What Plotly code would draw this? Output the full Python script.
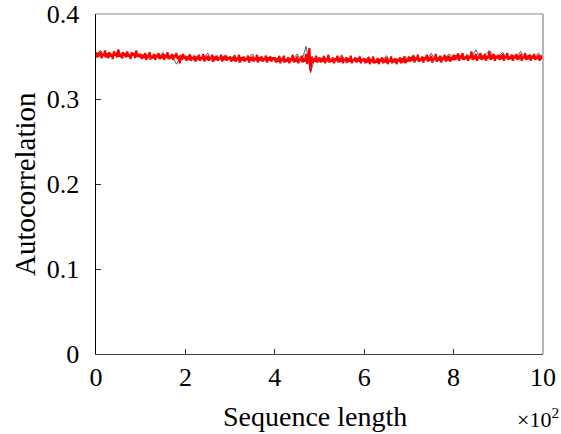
import numpy as np
import plotly.graph_objects as go

# Autocorrelation values (red series), sequence length 0..10 (x10^2)
red_values = [
    0.355,0.349,0.354,0.350,0.356,0.348,0.353,0.351,0.357,0.349,
    0.354,0.348,0.355,0.350,0.353,0.347,0.356,0.351,0.354,0.349,
    0.358,0.350,0.353,0.348,0.355,0.351,0.354,0.349,0.356,0.350,
    0.353,0.347,0.355,0.351,0.354,0.348,0.357,0.350,0.353,0.349,
    0.353,0.347,0.352,0.348,0.354,0.346,0.352,0.349,0.355,0.347,
    0.351,0.348,0.353,0.346,0.352,0.349,0.354,0.347,0.351,0.348,
    0.353,0.346,0.352,0.349,0.355,0.347,0.351,0.348,0.353,0.346,
    0.352,0.349,0.354,0.347,0.351,0.342,0.352,0.346,0.353,0.348,
    0.351,0.345,0.350,0.346,0.352,0.345,0.349,0.347,0.351,0.344,
    0.350,0.346,0.352,0.345,0.349,0.347,0.353,0.344,0.350,0.346,
    0.351,0.345,0.349,0.347,0.352,0.344,0.350,0.346,0.351,0.345,
    0.349,0.347,0.352,0.344,0.350,0.346,0.351,0.345,0.349,0.347,
    0.350,0.344,0.349,0.345,0.351,0.344,0.348,0.346,0.352,0.343,
    0.349,0.345,0.350,0.344,0.348,0.346,0.351,0.343,0.349,0.345,
    0.350,0.344,0.348,0.346,0.352,0.343,0.349,0.345,0.350,0.344,
    0.348,0.346,0.351,0.343,0.349,0.345,0.350,0.344,0.349,0.346,
    0.349,0.343,0.348,0.344,0.350,0.342,0.348,0.345,0.351,0.343,
    0.347,0.344,0.349,0.342,0.348,0.345,0.352,0.343,0.348,0.344,
    0.350,0.342,0.347,0.345,0.351,0.343,0.348,0.344,0.353,0.341,
    0.349,0.360,0.333,0.350,0.342,0.348,0.344,0.351,0.343,0.347,
    0.349,0.343,0.348,0.344,0.350,0.342,0.348,0.345,0.352,0.343,
    0.347,0.344,0.349,0.342,0.348,0.345,0.351,0.343,0.348,0.344,
    0.350,0.342,0.347,0.345,0.349,0.343,0.348,0.344,0.351,0.342,
    0.347,0.345,0.349,0.343,0.348,0.344,0.350,0.342,0.347,0.345,
    0.348,0.342,0.347,0.343,0.349,0.341,0.347,0.344,0.350,0.342,
    0.346,0.343,0.348,0.341,0.347,0.344,0.349,0.342,0.347,0.343,
    0.349,0.341,0.346,0.344,0.350,0.342,0.347,0.343,0.348,0.341,
    0.347,0.344,0.349,0.342,0.348,0.343,0.350,0.342,0.347,0.344,
    0.350,0.344,0.349,0.345,0.351,0.343,0.349,0.346,0.352,0.344,
    0.348,0.345,0.350,0.343,0.349,0.346,0.352,0.344,0.349,0.345,
    0.351,0.343,0.348,0.346,0.353,0.344,0.349,0.345,0.351,0.343,
    0.349,0.346,0.352,0.344,0.350,0.345,0.351,0.344,0.349,0.346,
    0.352,0.346,0.351,0.347,0.353,0.345,0.351,0.348,0.354,0.346,
    0.350,0.347,0.352,0.345,0.351,0.348,0.356,0.346,0.351,0.347,
    0.353,0.345,0.350,0.348,0.354,0.346,0.351,0.347,0.353,0.345,
    0.351,0.348,0.356,0.346,0.352,0.347,0.353,0.345,0.351,0.348,
    0.352,0.346,0.351,0.347,0.353,0.345,0.351,0.348,0.354,0.346,
    0.350,0.347,0.352,0.345,0.351,0.348,0.353,0.346,0.351,0.347,
    0.353,0.345,0.350,0.348,0.354,0.346,0.351,0.347,0.352,0.345,
    0.351,0.348,0.353,0.346,0.350,0.347,0.352,0.345,0.351,0.348,
    0.349,
]

# Black series (drawn beneath the red one)
black_values = [
    0.352,0.357,0.349,0.354,0.351,0.358,0.348,0.353,0.350,0.355,
    0.349,0.354,0.346,0.352,0.348,0.355,0.347,0.351,0.341,0.350,
    0.347,0.353,0.345,0.350,0.348,0.354,0.344,0.349,0.346,0.352,
    0.346,0.352,0.343,0.349,0.347,0.353,0.344,0.350,0.345,0.350,
    0.345,0.351,0.343,0.348,0.346,0.353,0.344,0.362,0.331,0.349,
    0.345,0.351,0.343,0.348,0.346,0.352,0.342,0.348,0.344,0.350,
    0.344,0.350,0.342,0.348,0.345,0.351,0.343,0.347,0.344,0.350,
    0.346,0.352,0.344,0.349,0.347,0.354,0.345,0.350,0.348,0.353,
    0.348,0.354,0.346,0.351,0.349,0.358,0.347,0.352,0.357,0.351,
    0.350,0.355,0.347,0.352,0.349,0.356,0.347,0.352,0.349,0.354,
    0.349,
]

x_red = np.linspace(0, 10, len(red_values))
x_black = np.linspace(0, 10, len(black_values))

x_ticks = [0, 2, 4, 6, 8, 10]
y_ticks = [0, 0.1, 0.2, 0.3, 0.4]
y_tick_text = ["0", "0.1", "0.2", "0.3", "0.4"]

font_family = "Liberation Serif, Times New Roman, serif"

fig = go.Figure()
fig.add_trace(go.Scatter(x=x_black, y=black_values, mode="lines",
                         line=dict(color="#333333", width=0.8), hoverinfo="skip"))
fig.add_trace(go.Scatter(x=x_red, y=red_values, mode="lines",
                         line=dict(color="#ff0000", width=2.2), hoverinfo="skip"))

fig.update_layout(
    width=561, height=434,
    margin=dict(l=96, r=18, t=14, b=80, autoexpand=False),
    paper_bgcolor="white", plot_bgcolor="white",
    showlegend=False,
    font=dict(family=font_family, size=26, color="black"),
    xaxis=dict(range=[0, 10], tickvals=x_ticks, ticks="inside", ticklen=5,
               tickcolor="#333333", showgrid=False, zeroline=False,
               showline=True, linecolor="#444444", linewidth=1,
               tickfont=dict(size=26), ticklabelstandoff=0,
               automargin=False, fixedrange=True),
    yaxis=dict(range=[0, 0.4], tickvals=y_ticks, ticktext=y_tick_text,
               ticks="inside", ticklen=5, tickcolor="#333333",
               showgrid=False, zeroline=False, showline=True,
               linecolor="black", linewidth=1.5, tickfont=dict(size=26),
               ticklabelstandoff=10, automargin=False, fixedrange=True),
)

# top and right frame lines
fig.add_shape(type="line", xref="paper", yref="paper", x0=0, x1=1, y0=1, y1=1,
              line=dict(color="#b0b0b0", width=1.5))
fig.add_shape(type="line", xref="paper", yref="paper", x0=1, x1=1, y0=0, y1=1,
              line=dict(color="#a0a0a0", width=1.5))

fig.add_annotation(text="Sequence length", xref="paper", yref="paper",
                   x=0.49, y=0, yshift=-62, yanchor="middle", showarrow=False,
                   font=dict(size=28, family=font_family))
fig.add_annotation(text="Autocorrelation", xref="paper", yref="paper",
                   x=0, xshift=-71, y=0.5, textangle=-90, xanchor="center",
                   showarrow=False, font=dict(size=29, family=font_family))
fig.add_annotation(text="×10<sup>2</sup>", xref="paper", yref="paper",
                   x=1, xshift=18, y=0, yshift=-64, xanchor="right", yanchor="middle",
                   showarrow=False, font=dict(size=22, family=font_family))

fig.write_html("out.html",
               config={"displayModeBar": False, "staticPlot": True},
               post_script="document.body.style.margin='0';document.body.style.padding='0';")
